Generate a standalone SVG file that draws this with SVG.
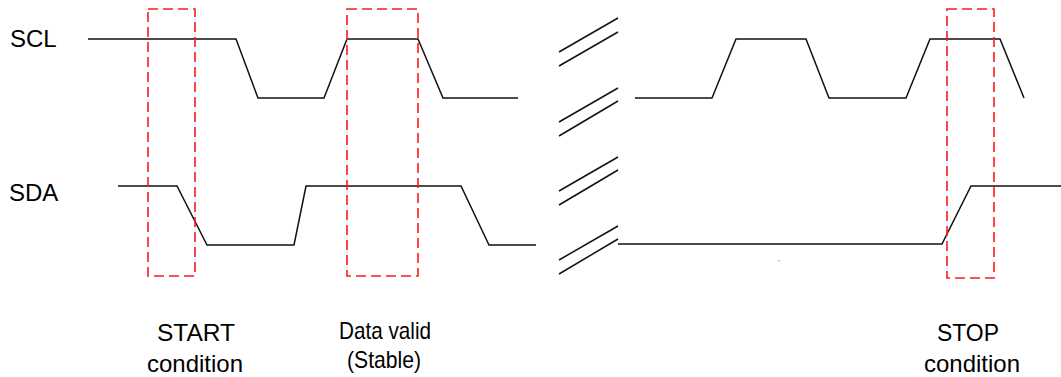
<svg xmlns="http://www.w3.org/2000/svg" width="1061" height="377" viewBox="0 0 1061 377">
<style>
.sig{fill:none;stroke:#111;stroke-width:1.5;stroke-linejoin:miter}
.brk{fill:none;stroke:#111;stroke-width:1.5}
.box{fill:none;stroke:#ff1a1a;stroke-width:1.6;stroke-dasharray:10,5}
.lbl{font-family:"Liberation Sans",Arial,sans-serif;font-size:24px;fill:#000}
.cap{font-family:"Liberation Sans",Arial,sans-serif;font-size:24px;fill:#000;text-anchor:middle}
</style>
<rect width="1061" height="377" fill="#fff"/>
<g id="labels">
<text class="lbl" x="10" y="47">SCL</text>
<text class="lbl" x="9" y="201">SDA</text>
</g>
<g id="scl">
<polyline class="sig" points="88,39 236,39 258,98 324,98 347,39 418,39 443,98 518,98"/>
<polyline class="sig" points="635,98 712,98 736,39 806,39 829,98 906,98 930,39 1000,39 1024,98"/>
</g>
<g id="sda">
<polyline class="sig" points="118,186 177,186 207,245 294,245 306,186 461,186 489,245 536,245"/>
<polyline class="sig" points="618,244 942,244 971,186 1061,186"/>
</g>
<g id="breaks">
<line class="brk" x1="559" y1="52" x2="618" y2="18"/>
<line class="brk" x1="559" y1="66" x2="618" y2="32"/>
<line class="brk" x1="559" y1="122" x2="618" y2="88"/>
<line class="brk" x1="559" y1="136" x2="618" y2="101"/>
<line class="brk" x1="559" y1="191" x2="618" y2="157"/>
<line class="brk" x1="559" y1="205" x2="618" y2="170"/>
<line class="brk" x1="559" y1="260" x2="618" y2="226"/>
<line class="brk" x1="559" y1="274" x2="618" y2="239"/>
</g>
<g id="start-box"><rect class="box" x="148" y="9" width="47" height="267"/></g>
<g id="valid-box"><rect class="box" x="347" y="9" width="71" height="267"/></g>
<g id="stop-box"><rect class="box" x="947" y="9" width="47" height="269"/></g>
<polygon points="777,260 781,260 779,262" fill="#ccc"/>
<g id="captions">
<text class="cap" x="196" y="341" textLength="78" lengthAdjust="spacingAndGlyphs">START</text>
<text class="cap" x="195" y="372" textLength="96" lengthAdjust="spacingAndGlyphs">condition</text>
<text class="cap" x="385" y="339" textLength="92" lengthAdjust="spacingAndGlyphs">Data valid</text>
<text class="cap" x="384" y="368" textLength="74" lengthAdjust="spacingAndGlyphs">(Stable)</text>
<text class="cap" x="968" y="341" textLength="62" lengthAdjust="spacingAndGlyphs">STOP</text>
<text class="cap" x="972" y="372" textLength="96" lengthAdjust="spacingAndGlyphs">condition</text>
</g>
</svg>
